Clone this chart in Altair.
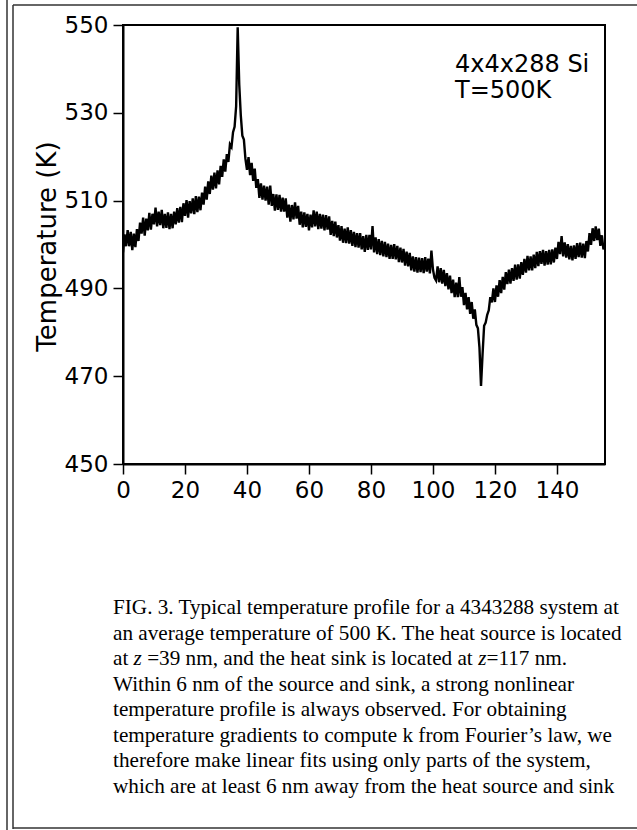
import altair as alt
import pandas as pd

# z positions (nm), sampled every 0.5 nm from 0 to 155.5
z_nm = [round(i * 0.5, 1) for i in range(312)]

# temperature (K), 10 values per 5 nm
temp_K = [
    498.2, 502.3, 499.6, 503.3, 499.6, 502.9, 498.7, 502.5, 499.4, 503.5,
    500.8, 505.0, 502.5, 506.1, 502.0, 505.9, 503.2, 507.2, 503.4, 507.0,
    504.6, 508.4, 504.1, 507.5, 504.4, 507.9, 503.7, 507.0, 503.8, 507.3,
    503.5, 507.0, 503.7, 507.5, 504.6, 508.3, 505.0, 508.6, 505.1, 509.4,
    506.5, 510.1, 506.1, 509.9, 507.1, 510.5, 506.9, 511.0, 507.4, 510.9,
    507.8, 511.8, 509.1, 513.2, 510.2, 514.4, 511.5, 515.7, 512.5, 516.4,
    512.8, 516.9, 513.7, 517.9, 515.4, 519.4, 516.6, 520.6, 518.8, 522.8,
    522.2, 525.6, 526.8, 531.5, 549.5, 536.5, 529.4, 524.8, 523.9, 519.5,
    517.0, 519.9, 515.8, 518.6, 514.5, 517.3, 512.9, 514.9, 510.6, 513.9,
    510.2, 513.4, 510.0, 513.2, 509.1, 513.4, 508.8, 511.5, 507.7, 511.4,
    507.9, 511.3, 507.5, 510.7, 507.5, 510.5, 506.1, 509.1, 505.2, 509.0,
    505.7, 509.6, 505.9, 508.8, 504.5, 507.5, 503.9, 507.3, 504.0, 507.0,
    503.2, 506.8, 503.9, 507.8, 504.1, 507.5, 503.5, 507.0, 503.6, 506.8,
    503.2, 506.7, 503.4, 506.4, 502.2, 505.4, 501.9, 505.2, 501.6, 504.4,
    500.9, 504.2, 500.4, 503.6, 500.3, 503.9, 500.2, 503.3, 499.7, 502.9,
    499.4, 502.6, 499.3, 502.6, 498.9, 501.9, 498.3, 502.2, 498.8, 502.2,
    498.9, 504.2, 498.2, 501.6, 497.8, 501.2, 497.6, 500.8, 497.3, 500.6,
    497.1, 500.2, 496.7, 499.9, 496.7, 500.1, 496.6, 499.7, 496.0, 499.3,
    495.9, 499.0, 495.2, 498.4, 495.0, 498.1, 494.1, 497.3, 493.8, 497.1,
    493.6, 497.0, 493.7, 496.9, 493.5, 497.1, 493.8, 496.8, 493.4, 498.6,
    494.3, 492.4, 491.8, 495.0, 491.4, 494.6, 491.1, 494.2, 490.5, 493.5,
    489.8, 492.9, 488.9, 492.0, 488.0, 491.3, 488.0, 492.6, 488.1, 490.3,
    486.2, 489.0, 485.2, 488.0, 484.2, 486.9, 483.1, 485.2, 481.7, 480.9,
    476.5, 467.8, 475.0, 481.5, 482.2, 484.0, 485.0, 488.0, 486.8, 490.0,
    486.9, 490.7, 488.1, 491.9, 488.9, 492.6, 489.7, 493.7, 491.0, 494.3,
    491.1, 494.6, 491.7, 495.4, 492.0, 495.5, 492.2, 496.0, 493.1, 496.7,
    493.6, 497.4, 494.1, 497.3, 494.1, 497.7, 494.6, 498.3, 495.1, 498.5,
    495.6, 498.8, 495.2, 498.5, 495.4, 498.8, 495.5, 498.9, 495.9, 499.3,
    496.7, 500.6, 497.8, 501.9, 497.3, 500.5, 497.0, 500.1, 496.6, 499.7,
    496.4, 499.8, 496.7, 500.3, 497.1, 500.4, 497.0, 500.2, 496.9, 500.8,
    498.4, 502.6, 499.9, 503.7, 500.8, 504.1, 501.0, 503.6, 499.7, 502.1,
    498.9, 500.0,
]

x_ticks = [0, 20, 40, 60, 80, 100, 120, 140]
y_ticks = [450, 470, 490, 510, 530, 550]

annotation_lines = ["4x4x288 Si", "T=500K"]

caption_lines = [
    "FIG. 3. Typical temperature profile for a 4343288 system at",
    "an average temperature of 500 K. The heat source is located",
    None,  # third line is built from upright and italic pieces below
    "Within 6 nm of the source and sink, a strong nonlinear",
    "temperature profile is always observed. For obtaining",
    "temperature gradients to compute k from Fourier\u2019s law, we",
    "therefore make linear fits using only parts of the system,",
    "which are at least 6 nm away from the heat source and sink",
]
# pieces of line 3; leading spaces are trimmed by the renderer, so each piece
# carries its leading gap (in em) separately
line3_pieces = ["at", "z", "=39 nm, and the heat sink is located at", "z", "=117 nm."]
line3_italic = [False, True, False, True, False]
line3_lead_em = [0.0, 0.25, 0.25, 0.25, 0.0]
line3_text_em = [0.722, 0.389, 15.368, 0.389, 3.842]

df = pd.DataFrame({"z": z_nm, "T": temp_K})

SANS = "DejaVu Sans"
SERIF = "Liberation Serif"
CAP_SIZE = 21.2

line = alt.Chart(df).mark_line(color="black", strokeWidth=2.4, clip=True).encode(
    x=alt.X(
        "z:Q",
        scale=alt.Scale(domain=[0, 155.5], nice=False, zero=False),
        axis=alt.Axis(
            values=x_ticks,
            title="z (nm)",
            titleX=229,
            titleY=487,
            titleBaseline="middle",
            titleAlign="center",
            titleFontSize=24,
        ),
    ),
    y=alt.Y(
        "T:Q",
        scale=alt.Scale(domain=[450, 550], nice=False, zero=False),
        axis=alt.Axis(
            values=y_ticks,
            title="Temperature (K)",
            titleX=-76,
            titleY=221,
            titleAngle=270,
            titleBaseline="middle",
            titleAlign="center",
            titleFontSize=26,
        ),
    ),
)

ann_df = pd.DataFrame({"text": annotation_lines, "row": [0, 1]})
ann = alt.Chart(ann_df).mark_text(
    font=SANS, fontSize=24, align="left", baseline="alphabetic", color="black"
).encode(
    text="text:N",
    x=alt.value(332),
    y=alt.Y("row:Q", axis=None, scale=alt.Scale(domain=[0, 1], range=[47, 73])),
)

rows = [i for i, t in enumerate(caption_lines) if t is not None]
cap_df = pd.DataFrame({"text": [caption_lines[i] for i in rows], "row": rows})
cap_scale = alt.Scale(domain=[0, 7], range=[589, 768])
cap = alt.Chart(cap_df).mark_text(
    font=SERIF, fontSize=CAP_SIZE, align="left", baseline="alphabetic", color="black"
).encode(
    text="text:N",
    x=alt.value(-10),
    y=alt.Y("row:Q", axis=None, scale=cap_scale),
)

line3_layers = []
cursor = 0.0
for piece, ital, lead, width in zip(line3_pieces, line3_italic, line3_lead_em, line3_text_em):
    cursor += lead * CAP_SIZE
    pdf = pd.DataFrame({"text": [piece], "row": [2]})
    line3_layers.append(
        alt.Chart(pdf).mark_text(
            font=SERIF, fontSize=CAP_SIZE, align="left", baseline="alphabetic",
            color="black", fontStyle="italic" if ital else "normal",
        ).encode(
            text="text:N",
            x=alt.value(-10 + cursor),
            y=alt.Y("row:Q", axis=None, scale=cap_scale),
        )
    )
    cursor += width * CAP_SIZE

one = alt.Data(values=[{}])
border_color = "#333333"
outer_left = alt.Chart(one).mark_rule(color=border_color, strokeWidth=1.5).encode(
    x=alt.value(-116), y=alt.value(-25), y2=alt.value(805)
)
inner_left = alt.Chart(one).mark_rule(color=border_color, strokeWidth=1.5).encode(
    x=alt.value(-110), y=alt.value(-20), y2=alt.value(804)
)
top_border = alt.Chart(one).mark_rule(color=border_color, strokeWidth=1.5).encode(
    x=alt.value(-110), x2=alt.value(514), y=alt.value(-20)
)
bottom_border = alt.Chart(one).mark_rule(color=border_color, strokeWidth=1.5).encode(
    x=alt.value(-110), x2=alt.value(514), y=alt.value(803)
)

chart = (
    alt.layer(line, ann, cap, *line3_layers, outer_left, inner_left, top_border, bottom_border)
    .resolve_scale(y="independent")
    .properties(
        width=482,
        height=439,
        autosize=alt.AutoSizeParams(type="none"),
        padding={"left": 123, "top": 25, "right": 32, "bottom": 366},
        background="white",
    )
    .configure_view(stroke="black", strokeWidth=2)
    .configure_axis(
        domainColor="black",
        domainWidth=2,
        tickColor="black",
        tickWidth=1.5,
        tickSize=10,
        grid=False,
        labelFont=SANS,
        labelFontSize=23,
        labelColor="black",
        titleFont=SANS,
        titleFontWeight="normal",
        titleColor="black",
        labelPadding=5,
    )
    .configure_axisX(labelFlush=False)
)

chart.save("out.html", embed_options={"renderer": "svg", "actions": False})
